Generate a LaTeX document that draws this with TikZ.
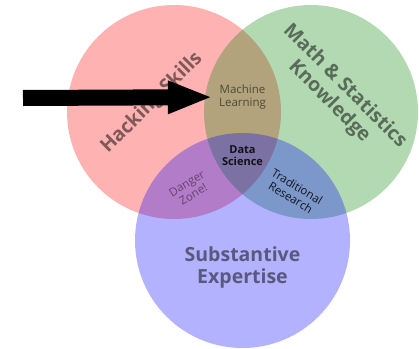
\documentclass[tikz,border=0pt]{standalone}
\usepackage{fontspec}
\setmainfont{Open Sans}
\usetikzlibrary{arrows.meta}
\tikzset{
  setc/.style={circle, minimum size=214pt, inner sep=0pt, fill opacity=0.3, text opacity=1},
  biglabel/.style={font=\bfseries\fontsize{19.5}{22}\selectfont, align=center, text=black, text opacity=0.5, inner sep=0pt},
  smalllabel/.style={font=\fontsize{11.5}{12.5}\selectfont, align=center, inner sep=0pt},
  bigarrow/.style={line width=16pt, -{Triangle[length=45pt,width=30pt]}}
}
\begin{document}
\begin{tikzpicture}[x=1pt,y=-1pt]
\useasboundingbox (0,0) rectangle (419,348);
\node[setc, fill=red] (hack) at (174,112) {};
\node[setc, fill={rgb,255:red,0;green,128;blue,0}] (math) at (311,112) {};
\node[setc, fill=blue, minimum size=215pt] (subst) at (242.5,240.5) {};
\node[biglabel, rotate=45] (hl) at (152,103) {Hacking Skills};
\node[biglabel, rotate=-45] (ml2) at (337,94) {Math \& Statistics\\Knowledge};
\node[biglabel] (sl) at (242.5,267) {Substantive\\Expertise};
\node[smalllabel, text=black, text opacity=0.55, inner sep=6pt] (ml) at (242.5,97) {Machine\\Learning};
\node[smalllabel, font=\bfseries\fontsize{11}{12}\selectfont, text=black, text opacity=0.85] (ds) at (242.5,156) {Data\\Science};
\node[smalllabel, rotate=31, text=black, text opacity=0.45] (dz) at (190,189) {Danger\\Zone!};
\node[smalllabel, rotate=-31, text=black, text opacity=0.85] (tr) at (294,192) {Traditional\\Research};
\coordinate (astart) at (23,98);
\draw[bigarrow] (astart) -- (ml);
\end{tikzpicture}
\end{document}
